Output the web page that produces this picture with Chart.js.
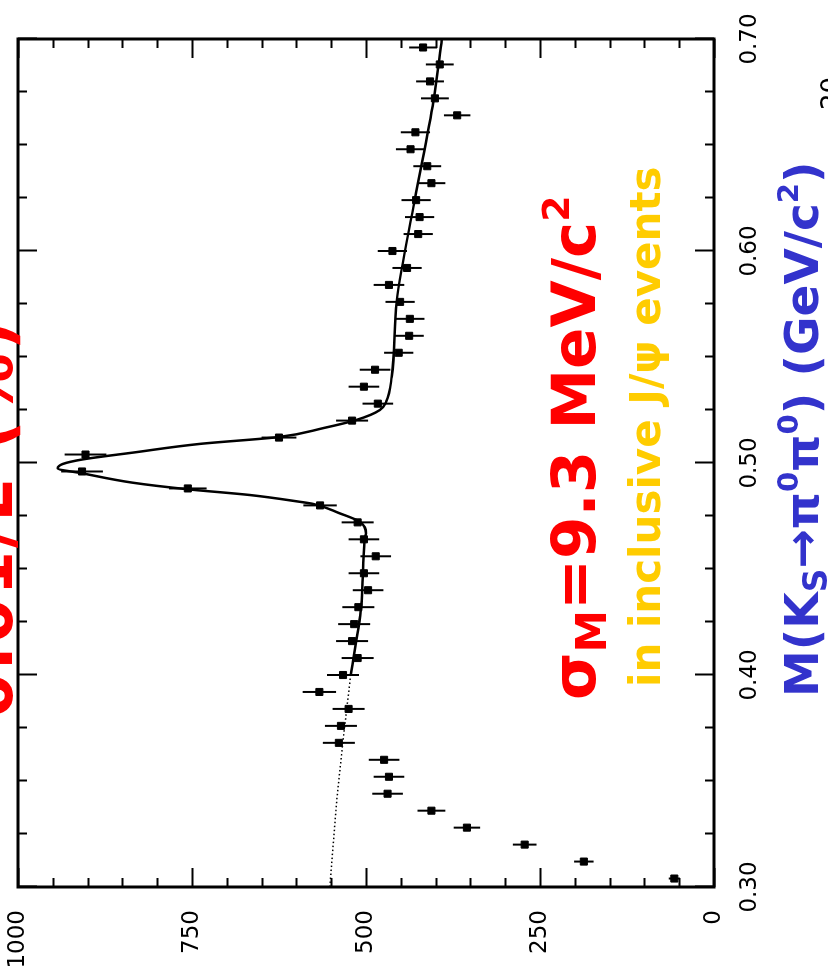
<!DOCTYPE html>
<html>
<head>
<meta charset="utf-8">
<script src="https://cdn.jsdelivr.net/npm/chart.js@4.4.0/dist/chart.umd.min.js"></script>
<style>
  html, body { margin: 0; padding: 0; background: #fff; }
  body { width: 828px; height: 976px; overflow: hidden; position: relative; }
  /* the plot is laid out lying on its side, then turned a quarter turn */
  #page { position: absolute; left: 0; top: 0; width: 976px; height: 828px;
          transform-origin: 0 0; transform: translate(0, 976px) rotate(-90deg); }
  #plot { position: absolute; left: 0; top: 0; }
  .note { position: absolute; white-space: nowrap; font-family: 'DejaVu Sans', sans-serif;
          font-weight: bold; line-height: 1; }
  .note sub { font-size: 0.7em; vertical-align: -0.25em; }
  .note sup { font-size: 0.62em; vertical-align: 0.7em; }
</style>
</head>
<body>
<div id="page">
  <canvas id="plot" width="976" height="828"></canvas>
  <div class="note" style="left:258px; top:-42px; font-size:64px; color:#ff0000; letter-spacing:3px;">0.01/E (%)</div>
  <div class="note" style="left:276px; top:538px; font-size:61px; color:#ff0000;">σ<sub>M</sub>=9.3 MeV/c<sup>2</sup></div>
  <div class="note" style="left:289px; top:625px; font-size:42px; color:#ffcc00;">in inclusive J/ψ events</div>
  <div class="note" style="left:279px; top:774px; font-size:47px; color:#3333cc;">M(K<sub>S</sub>→π<sup>0</sup>π<sup>0</sup>) (GeV/c<sup>2</sup>)</div>
  <div class="note" style="left:866px; top:818px; font-size:26px; font-weight:normal; color:#000;">20</div>
</div>
<script>
// bin centres (GeV/c^2), 8 MeV bins
const massBins = [0.304, 0.312, 0.320, 0.328, 0.336, 0.344, 0.352, 0.360, 0.368, 0.376,
                  0.384, 0.392, 0.400, 0.408, 0.416, 0.424, 0.432, 0.440, 0.448, 0.456,
                  0.464, 0.472, 0.480, 0.488, 0.496, 0.504, 0.512, 0.520, 0.528, 0.536,
                  0.544, 0.552, 0.560, 0.568, 0.576, 0.584, 0.592, 0.600, 0.608, 0.616,
                  0.624, 0.632, 0.640, 0.648, 0.656, 0.664, 0.672, 0.680, 0.688, 0.696];
const counts = [57, 187, 272, 355, 406, 469, 467, 474, 539, 536,
                525, 567, 533, 512, 520, 517, 511, 497, 503, 486,
                503, 512, 566, 756, 908, 903, 625, 520, 483, 503,
                487, 453, 438, 437, 451, 467, 441, 462, 425, 423,
                428, 406, 412, 436, 429, 369, 401, 408, 394, 418];
const errors = [8, 14, 17, 19, 20, 22, 22, 22, 23, 23,
                23, 24, 23, 23, 23, 23, 23, 22, 22, 22,
                22, 23, 24, 27, 30, 30, 25, 23, 22, 22,
                22, 21, 21, 21, 21, 22, 21, 21, 21, 21,
                21, 20, 20, 21, 21, 19, 20, 20, 20, 20];

// fitted curve; dotted extrapolation below the fit range
const extrapMass = [0.300, 0.341, 0.369, 0.400];
const extrapValue = [552, 542, 533, 522];
const fitMass = [0.400, 0.435, 0.464, 0.4668, 0.4723, 0.4763, 0.4807, 0.4817, 0.4849, 0.4876,
                 0.4907, 0.4951, 0.4975, 0.4995, 0.5017, 0.5049, 0.5090, 0.5123, 0.5164, 0.5203,
                 0.5250, 0.5289, 0.5407, 0.576, 0.624, 0.671, 0.700];
const fitValue = [522, 506, 502, 500, 509, 538, 576, 595, 667, 756,
                  835, 907, 943, 936, 907, 835, 739, 624, 562, 514,
                  480, 471, 463, 456, 430, 403, 391];

const xTicks = [0.30, 0.40, 0.50, 0.60, 0.70];
const yTicks = [0, 250, 500, 750, 1000];

// where the frame sits on the (unrotated) canvas
const AREA = { left: 89, right: 937, top: 18, bottom: 714 };

const toXY = (xs, ys) => xs.map((m, i) => ({ x: m, y: ys[i] }));

// pin the plot box, whatever padding the layout wanted
const pinArea = {
    id: 'pinArea',
    afterLayout(chart) {
        const { x, y } = chart.scales;
        Object.assign(chart.chartArea, AREA, { width: AREA.right - AREA.left, height: AREA.bottom - AREA.top });
        x.left = AREA.left; x.right = AREA.right; x.width = AREA.right - AREA.left;
        x.top = AREA.bottom; x.bottom = 828; x.height = 828 - AREA.bottom;
        y.top = AREA.top; y.bottom = AREA.bottom; y.height = AREA.bottom - AREA.top;
        y.left = 0; y.right = AREA.left; y.width = AREA.left;
        x.configure(); y.configure();
    }
};

const errorBars = {
    id: 'errorBars',
    afterDatasetsDraw(chart) {
        const { ctx, scales: { x, y } } = chart;
        ctx.save();
        ctx.strokeStyle = '#000';
        ctx.lineWidth = 2;
        massBins.forEach((m, i) => {
            const px = x.getPixelForValue(m);
            ctx.beginPath();
            ctx.moveTo(px, y.getPixelForValue(counts[i] - errors[i]));
            ctx.lineTo(px, y.getPixelForValue(counts[i] + errors[i]));
            ctx.stroke();
        });
        ctx.restore();
    }
};

// box with inward ticks on all four sides
const frame = {
    id: 'frame',
    afterDraw(chart) {
        const { ctx, chartArea: a, scales: { x, y } } = chart;
        ctx.save();
        ctx.strokeStyle = '#000';
        ctx.lineWidth = 2;
        ctx.beginPath();
        for (let k = 0; k <= 16; k++) {
            const m = 0.30 + k * 0.025;
            const px = Math.round(x.getPixelForValue(m)) + 0.5;
            const len = k % 4 === 0 ? 19 : 9;
            ctx.moveTo(px, a.bottom); ctx.lineTo(px, a.bottom - len);
            ctx.moveTo(px, a.top); ctx.lineTo(px, a.top + len);
        }
        for (let k = 0; k <= 20; k++) {
            const py = Math.round(y.getPixelForValue(k * 50)) + 0.5;
            const len = k % 5 === 0 ? 19 : 9;
            ctx.moveTo(a.left, py); ctx.lineTo(a.left + len, py);
            ctx.moveTo(a.right, py); ctx.lineTo(a.right - len, py);
        }
        ctx.stroke();
        ctx.lineWidth = 3;
        ctx.strokeRect(a.left, a.top, a.right - a.left, a.bottom - a.top);
        ctx.restore();
    }
};

const tickFont = { family: 'DejaVu Sans', size: 23 };

new Chart(document.getElementById('plot'), {
    type: 'scatter',
    data: {
        datasets: [{
            label: 'data',
            data: toXY(massBins, counts),
            backgroundColor: '#000',
            borderColor: '#000',
            pointStyle: 'rect',
            pointRadius: 5,
            showLine: false
        }, {
            label: 'fit',
            data: toXY(fitMass, fitValue),
            showLine: true,
            borderColor: '#000',
            borderWidth: 2.5,
            pointRadius: 0,
            cubicInterpolationMode: 'monotone'
        }, {
            label: 'extrapolation',
            data: toXY(extrapMass, extrapValue),
            showLine: true,
            borderColor: '#000',
            borderWidth: 1.5,
            borderDash: [1.5, 2.5],
            pointRadius: 0
        }]
    },
    options: {
        responsive: false,
        animation: false,
        layout: { autoPadding: false, padding: { left: 0, right: 39, top: 18, bottom: 0 } },
        plugins: { legend: { display: false }, tooltip: { enabled: false } },
        scales: {
            x: {
                type: 'linear', min: 0.30, max: 0.70,
                afterBuildTicks: s => { s.ticks = xTicks.map(v => ({ value: v })); },
                afterFit: s => { s.height = 114; },
                ticks: { callback: v => v.toFixed(2), font: tickFont, color: '#000', padding: 14, maxRotation: 0, autoSkip: false },
                grid: { display: false },
                border: { display: false }
            },
            y: {
                min: 0, max: 1000,
                afterBuildTicks: s => { s.ticks = yTicks.map(v => ({ value: v })); },
                afterFit: s => { s.width = 89; },
                ticks: { callback: v => String(v), font: tickFont, color: '#000', padding: 15, autoSkip: false },
                grid: { display: false },
                border: { display: false }
            }
        }
    },
    plugins: [pinArea, errorBars, frame]
});
</script>
</body>
</html>
